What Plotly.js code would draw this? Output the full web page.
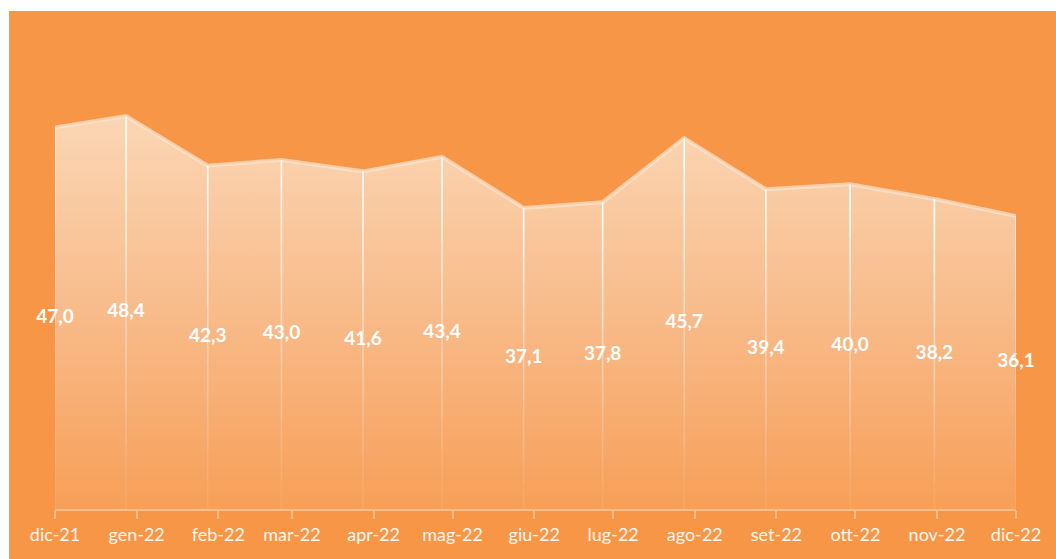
<!DOCTYPE html>
<html><head><meta charset="utf-8">
<script src="https://cdn.plot.ly/plotly-3.0.1.min.js"></script>
<style>
html,body{margin:0;padding:0;background:#ffffff;}
#chart{position:absolute;left:9px;top:11px;width:1047px;height:548px;}
</style>
</head><body><div id="chart"></div>
<script>
// Month labels on the axis
const months = ['dic-21','gen-22','feb-22','mar-22','apr-22','mag-22','giu-22','lug-22','ago-22','set-22','ott-22','nov-22','dic-22'];
// Month start dates where the axis ticks sit
const monthStarts = ['2021-12-01','2022-01-01','2022-02-01','2022-03-01','2022-04-01','2022-05-01','2022-06-01','2022-07-01','2022-08-01','2022-09-01','2022-10-01','2022-11-01','2022-12-01'];
// Dates of the plotted points
const pointDates = ['2021-12-01','2021-12-28','2022-01-28','2022-02-25','2022-03-28','2022-04-27','2022-05-28','2022-06-27','2022-07-28','2022-08-28','2022-09-29','2022-10-31','2022-12-01'];
// Series values
const values = [47.0,48.4,42.3,43.0,41.6,43.4,37.1,37.8,45.7,39.4,40.0,38.2,36.1];

const labels = values.map(v => v.toFixed(1).replace('.', ','));

// Drop lines, fading downward: built from the data in many short segments
const nSeg = 12;
const dropTraces = [];
for (let s = 0; s < nSeg; s++) {
  const f0 = 1 - s / nSeg, f1 = 1 - (s + 1) / nSeg;
  const a = 0.95 * Math.pow(1 - s / nSeg, 1.6) + 0.06;
  const xs = [], ys = [];
  pointDates.forEach((d, i) => {
    xs.push(d, d, null);
    ys.push(values[i] * f0, values[i] * f1, null);
  });
  dropTraces.push({
    x: xs, y: ys, type: 'scatter', mode: 'lines',
    line: {color: 'rgba(255,255,255,' + a.toFixed(3) + ')', width: 1.6},
    hoverinfo: 'skip', showlegend: false
  });
}

const area = {
  x: pointDates, y: values, type: 'scatter', mode: 'lines',
  fill: 'tozeroy',
  fillgradient: {
    type: 'vertical', start: 0, stop: 50,
    colorscale: [[0, '#F79F58'], [0.5, '#F8BC8C'], [1, '#FBD8B7']]
  },
  line: {color: 'rgba(252,228,206,0.7)', width: 4, shape: 'linear'},
  hoverinfo: 'skip', showlegend: false
};

const textTrace = {
  x: pointDates, y: values.map(v => v / 2), type: 'scatter', mode: 'text',
  text: labels, textposition: 'middle center',
  textfont: {family: 'Lato, "Open Sans", sans-serif', size: 19, color: '#ffffff', weight: 'bold'},
  hoverinfo: 'skip', showlegend: false, cliponaxis: false
};

const layout = {
  width: 1047, height: 548,
  margin: {l: 46, r: 40, t: 11, b: 50},
  paper_bgcolor: '#F79646', plot_bgcolor: 'rgba(0,0,0,0)',
  showlegend: false,
  xaxis: {
    type: 'date', range: [monthStarts[0], monthStarts[monthStarts.length - 1]],
    tickmode: 'array', tickvals: monthStarts, ticktext: months,
    showgrid: false, zeroline: false,
    showline: true, linecolor: 'rgba(255,235,215,0.45)', linewidth: 2,
    ticks: 'outside', ticklen: 8, tickwidth: 2, tickcolor: 'rgba(255,235,215,0.45)',
    tickfont: {family: 'Lato, "Open Sans", sans-serif', size: 18, color: '#FFF6EE'},
    fixedrange: true
  },
  yaxis: {range: [0, 60], visible: false, fixedrange: true},
  hovermode: false
};

Plotly.newPlot('chart', [area, ...dropTraces, textTrace], layout, {displayModeBar: false, staticPlot: true});
</script>
</body></html>
